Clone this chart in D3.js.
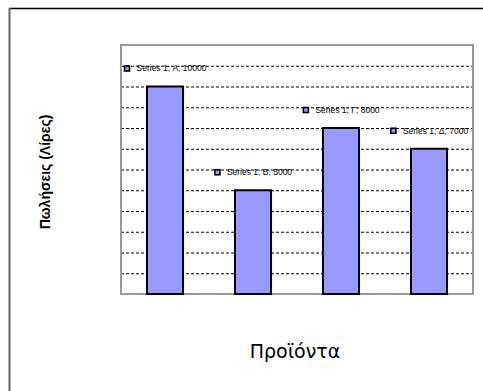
<!DOCTYPE html>
<html>
<head>
<meta charset="utf-8">
<script src="https://cdn.jsdelivr.net/npm/d3@7/dist/d3.min.js"></script>
<style>
  html, body { margin: 0; padding: 0; background: #fff; }
  svg { display: block; }
</style>
</head>
<body>
<svg id="chart" width="483" height="391"></svg>
<script>
// Sales per product (single series)
const seriesName = "Series 1";
const categories = ["Α", "Β", "Γ", "Δ"];
const values = [10000, 5000, 8000, 7000];
const gridTicks = [1000, 2000, 3000, 4000, 5000, 6000, 7000, 8000, 9000, 10000, 11000];
const yMax = 12000;
const yTitle = "Πωλήσεις (Λίρες)";
const xTitle = "Προϊόντα";

const svg = d3.select("#chart");
const plot = { left: 121, top: 45, right: 473, bottom: 294 };

// chart frame (continues past the window edges)
svg.append("line").attr("x1", 9).attr("x2", 483).attr("y1", 8.5).attr("y2", 8.5)
  .attr("stroke", "#000").attr("stroke-width", 1.5);
svg.append("line").attr("x1", 9.5).attr("x2", 9.5).attr("y1", 8).attr("y2", 391)
  .attr("stroke", "#666").attr("stroke-width", 2);

const x = d3.scaleBand()
  .domain(categories)
  .range([plot.left, plot.right])
  .paddingInner(0.59)
  .paddingOuter(0.295);

const y = d3.scaleLinear()
  .domain([0, yMax])
  .range([plot.bottom, plot.top]);

// dashed gridlines
const grid = svg.append("g")
  .attr("transform", `translate(${plot.left},0)`)
  .call(d3.axisLeft(y).tickValues(gridTicks).tickSize(-(plot.right - plot.left)).tickFormat(""));
grid.select(".domain").remove();
grid.selectAll(".tick line")
  .attr("stroke", "#000")
  .attr("stroke-width", 1)
  .attr("stroke-dasharray", "3,2");

// plot area border
svg.append("rect")
  .attr("x", plot.left).attr("y", plot.top)
  .attr("width", plot.right - plot.left).attr("height", plot.bottom - plot.top)
  .attr("fill", "none").attr("stroke", "#999").attr("stroke-width", 2);

// bars
svg.append("g").selectAll("rect")
  .data(categories)
  .join("rect")
  .attr("x", d => x(d))
  .attr("width", x.bandwidth())
  .attr("y", (d, i) => y(values[i]))
  .attr("height", (d, i) => y(0) - y(values[i]))
  .attr("fill", "#9999FF")
  .attr("stroke", "#000")
  .attr("stroke-width", 2);

// data labels with legend key
const labels = svg.append("g").selectAll("g")
  .data(categories)
  .join("g");

labels.each(function (d, i) {
  const g = d3.select(this);
  const t = g.append("text")
    .attr("x", 13)
    .attr("y", 0)
    .attr("dy", "0.35em")
    .attr("font-family", "Liberation Sans, Arial, sans-serif")
    .attr("font-size", 8.5)
    .attr("fill", "#000")
    .text(`${seriesName}; ${d}; ${values[i]}`);
  g.append("rect")
    .attr("x", 1).attr("y", -2.5)
    .attr("width", 5).attr("height", 5)
    .attr("fill", "#9999FF")
    .attr("stroke", "#000")
    .attr("stroke-width", 1.6);
  const w = 13 + t.node().getComputedTextLength();
  const cx = x(d) + x.bandwidth() / 2;
  g.attr("transform", `translate(${cx - w / 2},${y(values[i]) - 18})`);
});

// axis titles
svg.append("text")
  .attr("transform", `translate(45,172) rotate(-90)`)
  .attr("text-anchor", "middle")
  .attr("dy", "0.35em")
  .attr("font-family", "Liberation Sans, Arial, sans-serif")
  .attr("font-weight", "bold")
  .attr("font-size", 14)
  .text(yTitle);

svg.append("text")
  .attr("x", 295)
  .attr("y", 358)
  .attr("text-anchor", "middle")
  .attr("font-family", "DejaVu Sans, Verdana, sans-serif")
  .attr("font-size", 19)
  .text(xTitle);
</script>
</body>
</html>
